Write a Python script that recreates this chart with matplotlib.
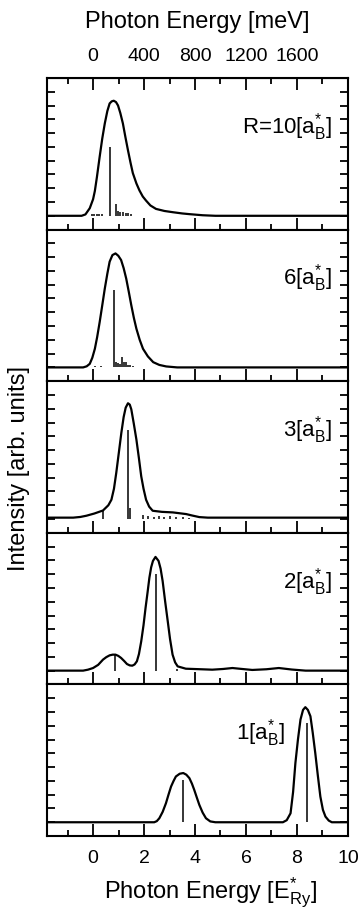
import numpy as np
import matplotlib
matplotlib.use('Agg')
import matplotlib.pyplot as plt
from matplotlib.ticker import MultipleLocator, NullFormatter

plt.rcParams['font.family'] = ['Liberation Sans', 'DejaVu Sans']
plt.rcParams['mathtext.fontset'] = 'custom'
plt.rcParams['mathtext.rm'] = 'Liberation Sans'
plt.rcParams['mathtext.it'] = 'Liberation Sans:italic'
plt.rcParams['mathtext.bf'] = 'Liberation Sans:bold'

# %%
# Werte (x in E*_Ry, y in willkuerlichen Einheiten)
labels = ['R=10', '6', '3', '2', '1']

x_r10 = [-1.9, -0.45, -0.3, -0.13, 0.0, 0.07, 0.15, 0.26, 0.36, 0.46, 0.56, 0.65, 0.73, 0.81, 0.9,
         0.98, 1.07, 1.17, 1.27, 1.37, 1.47, 1.56, 1.7, 1.82, 1.95, 2.08, 2.25, 2.47, 2.8, 3.13,
         3.5, 3.78, 4.3, 4.8, 10.0]
y_r10 = [0, 0, 0.1, 0.55, 1.2, 1.8, 2.8, 4.3, 5.6, 6.7, 7.6, 8.15, 8.3, 8.35, 8.25,
         8.0, 7.45, 6.7, 5.7, 4.75, 3.85, 3.1, 2.35, 1.84, 1.4, 1.1, 0.75, 0.5, 0.35, 0.26,
         0.17, 0.12, 0.04, 0, 0]
stick_x_r10 = [-0.05, 0.05, 0.15, 0.25, 0.35, 0.67, 0.89, 0.98, 1.07, 1.17, 1.28, 1.37, 1.5]
stick_h_r10 = [0.1, 0.1, 0.1, 0.1, 0.1, 5.0, 0.85, 0.35, 0.25, 0.3, 0.2, 0.2, 0.15]

x_r6 = [-1.9, -0.39, -0.25, -0.13, -0.03, 0.07, 0.16, 0.26, 0.36, 0.46, 0.56, 0.65, 0.76, 0.88,
        0.99, 1.1, 1.2, 1.3, 1.4, 1.5, 1.6, 1.7, 1.83, 1.96, 2.15, 2.36, 2.6, 2.87, 3.3, 10.0]
y_r6 = [0, 0, 0.08, 0.26, 0.7, 1.35, 2.2, 3.3, 4.5, 5.72, 6.8, 7.67, 8.15, 8.27,
        8.1, 7.79, 7.2, 6.45, 5.5, 4.51, 3.6, 2.81, 2.0, 1.35, 0.8, 0.38, 0.18, 0.07, 0, 0]
stick_x_r6 = [0.07, 0.33, 0.81, 0.91, 0.97, 1.04, 1.15, 1.21, 1.28, 1.37, 1.46, 1.56]
stick_h_r6 = [0.1, 0.1, 5.63, 0.38, 0.3, 0.26, 0.75, 0.4, 0.38, 0.2, 0.15, 0.1]

x_r3 = [-1.9, -0.78, -0.5, -0.26, 0.05, 0.39, 0.6, 0.72, 0.82, 0.91, 1.01, 1.11, 1.2, 1.28, 1.37,
        1.44, 1.5, 1.6, 1.7, 1.8, 1.89, 1.98, 2.08, 2.2, 2.34, 2.7, 3.13, 3.65, 3.9, 4.17, 4.5, 10.0]
y_r3 = [0.1, 0.1, 0.15, 0.24, 0.4, 0.62, 1.0, 1.4, 2.2, 3.35, 4.8, 6.26, 7.4, 8.08, 8.4,
        8.3, 7.96, 6.9, 5.77, 4.4, 3.1, 2.2, 1.4, 0.9, 0.6, 0.52, 0.48, 0.36, 0.25, 0.14, 0.1, 0.1]
stick_x_r3 = [0.39, 1.37, 1.43, 1.95, 2.15, 2.41, 2.6, 2.8, 3.0, 3.26, 3.52, 3.78]
stick_h_r3 = [0.55, 6.45, 0.8, 0.3, 0.25, 0.15, 0.2, 0.15, 0.2, 0.15, 0.15, 0.1]

x_r2 = [-1.9, -0.39, -0.2, 0.0, 0.2, 0.39, 0.52, 0.65, 0.77, 0.88, 0.99, 1.1, 1.22, 1.33, 1.44,
        1.54, 1.63, 1.72, 1.8, 1.89, 1.98, 2.06, 2.14, 2.21, 2.28, 2.35, 2.45, 2.57, 2.65, 2.73,
        2.83, 2.93, 3.02, 3.12, 3.22, 3.32, 3.64, 4.68, 5.1, 5.47, 5.85, 6.25, 6.8, 7.29, 7.8,
        8.34, 10.0]
y_r2 = [0, 0, 0.07, 0.19, 0.42, 0.8, 0.98, 1.11, 1.16, 1.16, 1.07, 0.92, 0.7, 0.48, 0.38,
        0.36, 0.45, 0.68, 1.2, 2.13, 3.3, 4.56, 5.7, 6.74, 7.5, 7.96, 8.25, 7.96, 7.4, 6.5,
        5.0, 3.59, 2.3, 1.16, 0.6, 0.31, 0.14, 0.07, 0.12, 0.19, 0.12, 0.05, 0.1, 0.19, 0.08,
        0, 0]
stick_x_r2 = [0.88, 2.45, 3.3]
stick_h_r2 = [1.11, 7.03, 0.1]

x_r1 = [-1.9, 2.4, 2.5, 2.6, 2.73, 2.86, 2.96, 3.06, 3.16, 3.25, 3.4, 3.54, 3.66, 3.78, 3.88,
        3.97, 4.07, 4.17, 4.3, 4.43, 4.6, 4.8, 7.45, 7.6, 7.75, 7.85, 7.94, 8.04, 8.14, 8.24,
        8.33, 8.43, 8.53, 8.62, 8.72, 8.82, 8.92, 9.02, 9.12, 9.25, 9.37, 10.0]
y_r1 = [0, 0, 0.08, 0.29, 0.75, 1.38, 2.0, 2.59, 3.0, 3.32, 3.52, 3.57, 3.45, 3.2, 2.8,
        2.35, 1.8, 1.26, 0.7, 0.29, 0.06, 0, 0, 0.15, 0.65, 2.2, 4.29, 6.0, 7.45, 8.15,
        8.35, 8.15, 7.69, 6.5, 5.02, 3.4, 1.86, 0.9, 0.41, 0.12, 0, 0]
stick_x_r1 = [3.52, 8.4]
stick_h_r1 = [3.08, 7.2]

curves = [(x_r10, y_r10), (x_r6, y_r6), (x_r3, y_r3), (x_r2, y_r2), (x_r1, y_r1)]
sticks = [(stick_x_r10, stick_h_r10), (stick_x_r6, stick_h_r6), (stick_x_r3, stick_h_r3),
          (stick_x_r2, stick_h_r2), (stick_x_r1, stick_h_r1)]
label_x = [0.947, 0.947, 0.947, 0.947, 0.79]

bottom_ticks = [0, 2, 4, 6, 8, 10]
top_ticks = [0, 400, 800, 1200, 1600]

# %%
fig, axes = plt.subplots(5, 1, figsize=(3.62, 9.14), dpi=100, sharex=True)
fig.subplots_adjust(left=0.129, right=0.961, top=0.9147, bottom=0.0853, hspace=0)

for i, ax in enumerate(axes):
    cx, cy = curves[i]
    sx, sh = sticks[i]
    ax.plot(cx, cy, color='black', lw=1.6, solid_joinstyle='round')
    ax.vlines(sx, 0, sh, color='black', lw=1.1)
    ax.set_xlim(-1.82, 10)
    ax.set_ylim(-1.0, 10)
    ax.set_yticks(range(0, 10))
    ax.yaxis.set_major_formatter(NullFormatter())
    ax.xaxis.set_major_locator(MultipleLocator(2))
    ax.xaxis.set_minor_locator(MultipleLocator(1))
    ax.tick_params(axis='y', direction='in', left=True, right=True, length=6, width=1.3)
    ax.tick_params(axis='x', which='major', direction='in', top=False, bottom=True,
                   length=8.5, width=1.3, labelsize=14, pad=10)
    ax.tick_params(axis='x', which='minor', direction='in', top=False, bottom=True,
                   length=4.3, width=1.3)
    for sp in ax.spines.values():
        sp.set_linewidth(1.5)
    ax.text(label_x[i], 0.635, labels[i] + r'[$\mathrm{a}^{*}_{\mathrm{B}}$]',
            transform=ax.transAxes, ha='right', va='baseline', fontsize=16)

axes[-1].set_xticks(bottom_ticks)
axes[-1].set_xlabel(r'Photon Energy [$\mathrm{E}^{*}_{\mathrm{Ry}}$]', fontsize=17)
axes[-1].xaxis.set_label_coords(0.545, -0.265)

# obere Achse in meV (1 E*_Ry = 200 meV)
sec = axes[0].secondary_xaxis('top', functions=(lambda e: e * 200, lambda m: m / 200))
sec.set_xticks(top_ticks)
sec.xaxis.set_minor_locator(MultipleLocator(200))
sec.tick_params(which='major', direction='in', length=8.5, width=1.3, labelsize=14, pad=9)
sec.tick_params(which='minor', direction='in', length=4.3, width=1.3)
sec.set_xlabel('Photon Energy [meV]', fontsize=17, labelpad=15)

fig.text(0.052, 0.487, 'Intensity [arb. units]', rotation=90, fontsize=17,
         ha='center', va='center')

fig.savefig('out.png', dpi=100)
